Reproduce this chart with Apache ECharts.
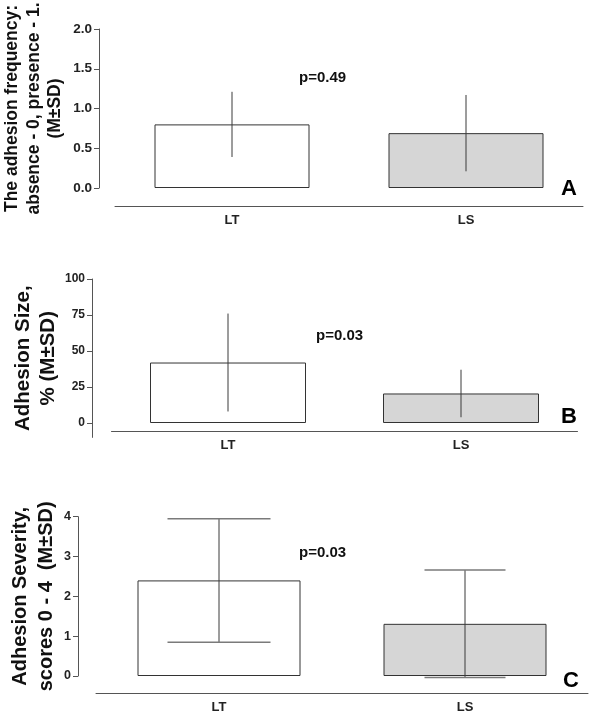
<!DOCTYPE html>
<html>
<head>
<meta charset="utf-8">
<script src="https://cdn.jsdelivr.net/npm/echarts@6/dist/echarts.min.js"></script>
<style>html,body{margin:0;padding:0;background:#fff}#c{width:600px;height:725px}</style>
</head>
<body>
<div id="c"></div>
<script>
const categories = ['LT', 'LS'];
// Panel A: adhesion frequency
const freqMean = [0.80, 0.69];
const freqSD = [0.41, 0.48];
const freqTicks = [0, 0.5, 1.0, 1.5, 2.0];
// Panel B: adhesion size, %
const sizeMean = [42, 20.5];
const sizeSD = [34, 16.5];
const sizeTicks = [0, 25, 50, 75, 100];
// Panel C: adhesion severity, scores 0-4
const sevMean = [2.40, 1.31];
const sevSD = [1.55, 1.35];
const sevTicks = [0, 1, 2, 3, 4];
const pValues = ['p=0.49', 'p=0.03', 'p=0.03'];
const panelLetters = ['A', 'B', 'C'];

const FONT = '"Liberation Sans", Arial, sans-serif';
const barColors = ['#ffffff', '#d6d6d6'];
const capWidths = [[0, 0], [0, 0], [103, 81]];

function errData(mean, sd) {
  return mean.map((m, i) => [i, m - sd[i], m + sd[i]]);
}
function errSeries(idx, mean, sd) {
  return {
    type: 'custom', xAxisIndex: idx, yAxisIndex: idx, z: 5,
    data: errData(mean, sd),
    renderItem: function (params, api) {
      const i = api.value(0);
      const lo = api.coord([i, api.value(1)]);
      const hi = api.coord([i, api.value(2)]);
      const cw = capWidths[idx][i] / 2;
      const children = [{
        type: 'line', shape: {x1: lo[0], y1: lo[1], x2: hi[0], y2: hi[1]},
        style: {stroke: '#3a3a3a', lineWidth: 1}
      }];
      if (cw > 0) {
        children.push({type: 'line', shape: {x1: hi[0] - cw, y1: hi[1], x2: hi[0] + cw, y2: hi[1]}, style: {stroke: '#7a7a7a', lineWidth: 1.5}});
        children.push({type: 'line', shape: {x1: lo[0] - cw, y1: lo[1], x2: lo[0] + cw, y2: lo[1]}, style: {stroke: '#7a7a7a', lineWidth: 1.5}});
      }
      return {type: 'group', children: children};
    }
  };
}
function barSeries(idx, mean, width) {
  return {
    type: 'bar', xAxisIndex: idx, yAxisIndex: idx, barWidth: width,
    data: mean.map((v, i) => ({value: v, itemStyle: {color: barColors[i]}})),
    itemStyle: {borderColor: '#333', borderWidth: 1},
    silent: true
  };
}
function yAx(idx, min, max, ticks, name, nameSize, nameGap, offset, lh, tickSize) {
  return {
    type: 'value', gridIndex: idx, min: min, max: max, offset: offset,
    splitLine: {show: false},
    axisLine: {show: true, lineStyle: {color: '#555', width: 1}},
    axisTick: {show: true, length: 5, lineStyle: {color: '#555'}, customValues: ticks},
    axisLabel: {fontFamily: FONT, fontWeight: 'bold', fontSize: tickSize, color: '#222', margin: 7,
      customValues: ticks, formatter: function (v) { return idx === 0 ? v.toFixed(1) : String(v); }},
    name: name, nameLocation: 'middle', nameRotate: 90, nameGap: nameGap, nameMoveOverlap: false,
    nameTextStyle: {fontFamily: FONT, fontWeight: 'bold', fontSize: nameSize, color: '#111', lineHeight: lh}
  };
}
function xAx(idx, offset) {
  return {
    type: 'category', gridIndex: idx, data: categories, offset: offset,
    axisLine: {show: true, onZero: false, lineStyle: {color: '#555', width: 1}},
    axisTick: {show: false},
    axisLabel: {fontFamily: FONT, fontWeight: 'bold', fontSize: 13, color: '#222', margin: 8}
  };
}
const chart = echarts.init(document.getElementById('c'), null, {renderer: 'canvas'});
chart.setOption({
  animation: false,
  backgroundColor: '#fff',
  grid: [
    {left: 115, width: 468, top: 29, height: 159, outerBoundsMode: 'none', containLabel: false},
    {left: 111.5, width: 466, top: 279, height: 158.4, outerBoundsMode: 'none', containLabel: false},
    {left: 96, width: 492, top: 516.7, height: 159.3, outerBoundsMode: 'none', containLabel: false}
  ],
  xAxis: [xAx(0, 18), xAx(1, -6.4), xAx(2, 17)],
  yAxis: [
    yAx(0, 0, 2, freqTicks, 'The adhesion frequency:\nabsence - 0, presence - 1.\n(M±SD)', 17.5, 33, 16, 21.5, 13.5),
    yAx(1, -10, 100, sizeTicks, 'Adhesion Size,\n% (M±SD)', 20.5, 30.5, 19.5, 25.5, 12),
    yAx(2, 0, 4, sevTicks, 'Adhesion Severity,\nscores 0 - 4  (M±SD)', 20, 18.5, 18, 26, 12.5)
  ],
  series: [
    barSeries(0, freqMean, 155), errSeries(0, freqMean, freqSD),
    barSeries(1, sizeMean, 156), errSeries(1, sizeMean, sizeSD),
    barSeries(2, sevMean, 163), errSeries(2, sevMean, sevSD)
  ],
  graphic: [
    {type: 'text', left: 299, top: 70, style: {text: pValues[0], font: 'bold 15px ' + FONT, fill: '#111'}},
    {type: 'text', left: 316, top: 328, style: {text: pValues[1], font: 'bold 15px ' + FONT, fill: '#111'}},
    {type: 'text', left: 299, top: 545, style: {text: pValues[2], font: 'bold 15px ' + FONT, fill: '#111'}},
    {type: 'text', left: 561, top: 178, style: {text: panelLetters[0], font: 'bold 22px ' + FONT, fill: '#000'}},
    {type: 'text', left: 561, top: 406, style: {text: panelLetters[1], font: 'bold 22px ' + FONT, fill: '#000'}},
    {type: 'text', left: 563, top: 670, style: {text: panelLetters[2], font: 'bold 22px ' + FONT, fill: '#000'}}
  ]
});
</script>
</body>
</html>
